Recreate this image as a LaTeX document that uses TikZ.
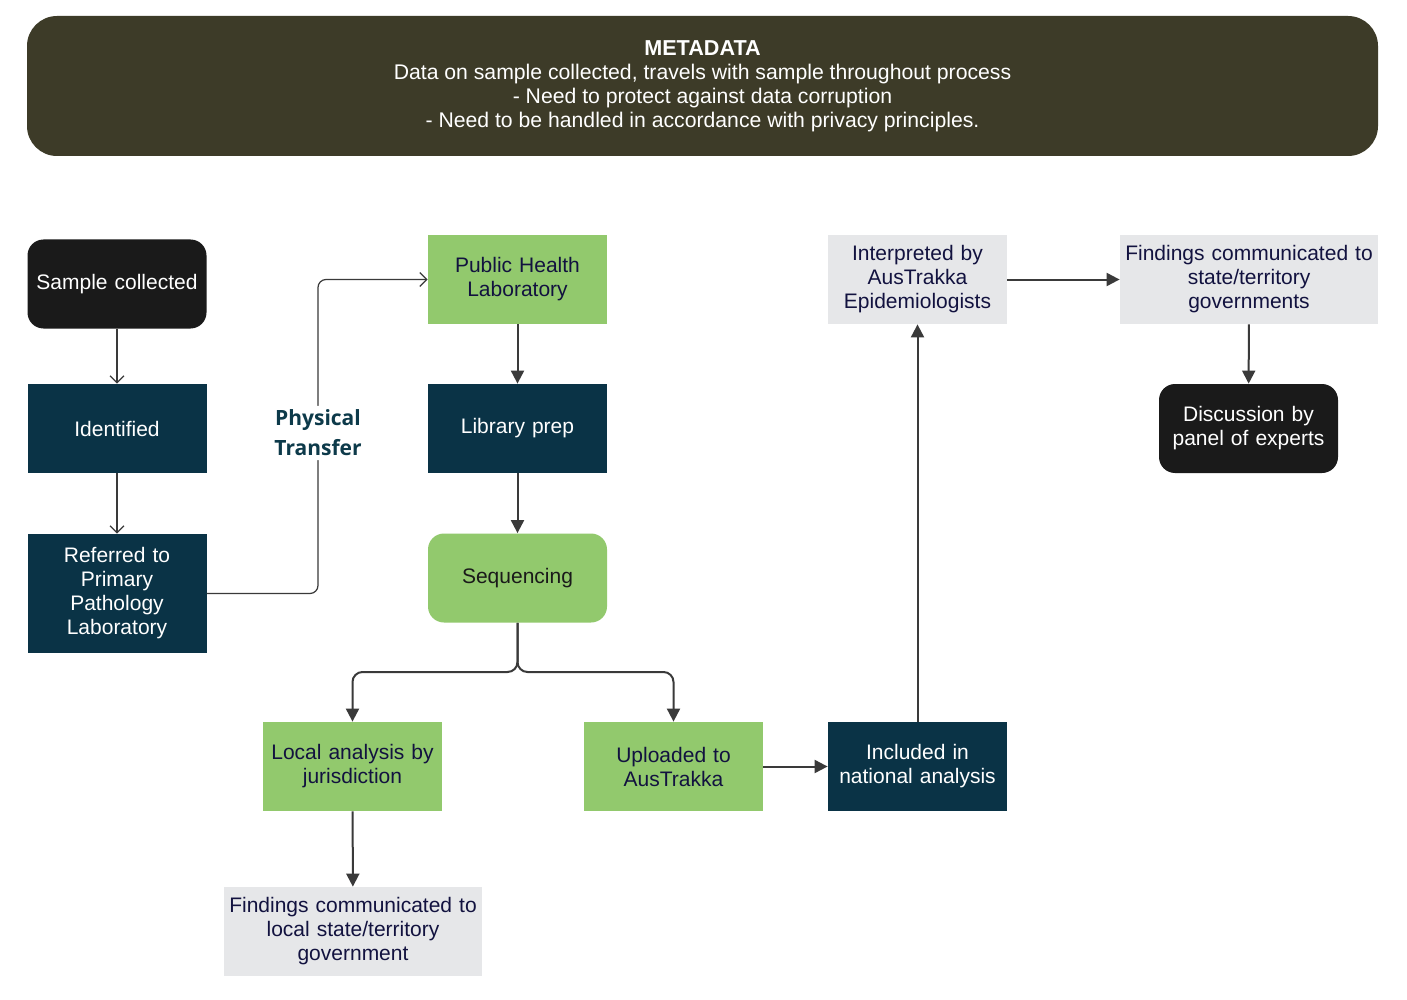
\documentclass[tikz,border=0pt]{standalone}
\usepackage{fontspec}
\setmainfont{Liberation Sans}
\newfontfamily\opensans{Open Sans}
\usetikzlibrary{arrows.meta}
\definecolor{meta}{HTML}{3D3B28}
\definecolor{navybox}{HTML}{0A3346}
\definecolor{greenbox}{HTML}{92C96D}
\definecolor{graybox}{HTML}{E6E7E9}
\definecolor{blackbox}{HTML}{1A1A1A}
\definecolor{navytext}{HTML}{12123F}
\definecolor{linecol}{HTML}{3A3A3A}
\definecolor{teal}{HTML}{0D3A4A}
\tikzset{
  base/.style={inner sep=0pt, align=center, font=\fontsize{10.5}{12}\selectfont,
    minimum width=89.5pt, minimum height=44.5pt, text width=86pt},
  navynode/.style={base, fill=navybox, text=white},
  gnode/.style={base, fill=greenbox, text=navytext},
  graynode/.style={base, fill=graybox, text=navytext},
  blacknode/.style={base, fill=blackbox, text=white, rounded corners=8pt},
  thinarrow/.style={draw=linecol, line width=0.6pt, -{Straight Barb[length=3.5pt,width=7pt]}},
  thickarrow/.style={draw=linecol, line width=1pt, -{Triangle[length=6.5pt,width=6.5pt]}},
}
\begin{document}
\begin{tikzpicture}[x=0.5pt,y=-0.5pt]
\useasboundingbox[fill=white] (0,0) rectangle (1407,1000);
% metadata
\node[fill=meta, rounded corners=15pt, minimum width=675.5pt, minimum height=70pt, inner sep=0pt,
  text=white, align=center, font=\fontsize{10.6}{12}\selectfont] (meta) at (702.5,86)
  {{\fontsize{10.8}{12}\selectfont\textbf{METADATA}}\\Data on sample collected, travels with sample throughout process\\- Need to protect against data corruption\\- Need to be handled in accordance with privacy principles.};
% left column
\node[blacknode] (sample) at (117,284) {Sample collected};
\node[navynode] (ident) at (117,428.5) {Identified};
\node[navynode, minimum height=59.5pt] (ref) at (117,593.5) {Referred to\\Primary\\Pathology\\Laboratory};
% middle column
\node[gnode] (phl) at (517.5,279.5) {Public Health\\Laboratory};
\node[navynode] (lib) at (517.5,428.5) {Library prep};
\node[gnode, rounded corners=8pt, text=blackbox] (seq) at (517.5,578) {Sequencing};
\node[gnode] (local) at (352.5,766.5) {Local analysis by\\jurisdiction};
\node[graynode, minimum width=129pt, text width=126pt] (flocal) at (353,931.5) {Findings communicated to\\local state/territory\\government};
\node[gnode] (upl) at (673.5,766.5) {Uploaded to\\AusTrakka};
\node[navynode] (incl) at (917.5,766.5) {Included in\\national analysis};
% right
\node[graynode] (interp) at (917.5,279.5) {Interpreted by\\AusTrakka\\Epidemiologists};
\node[graynode, minimum width=129pt, text width=126pt] (fstate) at (1249,279.5) {Findings communicated to\\state/territory\\governments};
\node[blacknode] (disc) at (1248.5,428.5) {Discussion by\\panel of experts};
% connectors
\draw[thinarrow] (sample) -- (ident);
\draw[thinarrow] (ident) -- (ref);
\draw[thinarrow, rounded corners=4pt] (ref.east) -| (318,433)
  node[fill=white, inner sep=2pt, align=center, text=teal,
       font=\opensans\bfseries\fontsize{10.5}{15}\selectfont] (pt) {Physical\\Transfer}
  |- (phl.west);
\draw[thickarrow] (phl) -- (lib);
\draw[thickarrow] (lib) -- (seq);
\draw[thickarrow, rounded corners=5pt] (seq.south) -- (517.5,672) -| (local.north);
\draw[thickarrow, rounded corners=5pt] (seq.south) -- (517.5,672) -| (upl.north);
\draw[thickarrow] (local) -- (flocal);
\draw[thickarrow] (upl) -- (incl);
\draw[thickarrow] (incl) -- (interp);
\draw[thickarrow] (interp) -- (fstate);
\draw[thickarrow] (fstate) -- (disc);
\end{tikzpicture}
\end{document}
